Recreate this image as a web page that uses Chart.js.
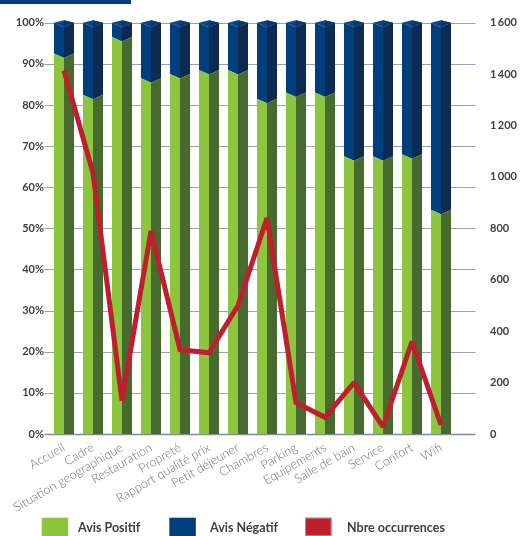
<!DOCTYPE html>
<html>
<head>
<meta charset="utf-8">
<script src="https://cdn.jsdelivr.net/npm/chart.js@4/dist/chart.umd.min.js"></script>
<style>
  html, body { margin: 0; padding: 0; background: #ffffff; }
  #wrap { position: relative; width: 523px; height: 536px; overflow: hidden; }
  #wrap canvas { position: absolute; left: 0; top: 0; }
  #band { position: absolute; left: 0; top: 0; width: 131px; height: 4px; background: #003f7f; }
</style>
</head>
<body>
<div id="wrap">
  <canvas id="chart" width="523" height="536"></canvas>
  <div id="band"></div>
</div>
<script>
// Satisfaction par thème : part d'avis positifs / négatifs et nombre d'occurrences
const categories = [
  'Accueil', 'Cadre', 'Situation geographique', 'Restauration', 'Propreté',
  'Rapport qualité prix', 'Petit déjeuner', 'Chambres', 'Parking', 'Equipements',
  'Salle de bain', 'Service', 'Confort', 'Wifi'
];
const avisPositif = [92.5, 82.5, 96.5, 86.5, 87.5, 88.5, 88.5, 81.5, 83, 83, 67.5, 67.5, 68, 54.5];
const avisNegatif = [7.5, 17.5, 3.5, 13.5, 12.5, 11.5, 11.5, 18.5, 17, 17, 32.5, 32.5, 32, 45.5];
const nbreOccurrences = [1414, 1015, 130, 790, 328, 316, 500, 840, 122, 65, 200, 28, 360, 35];
const percentTicks = [0, 10, 20, 30, 40, 50, 60, 70, 80, 90, 100];
const countTicks = [0, 200, 400, 600, 800, 1000, 1200, 1400, 1600];

const GREEN = '#8cc63f', GREEN_SIDE = '#476b2e';
const BLUE = '#013f7c', BLUE_SIDE = '#0c2a52', BLUE_TOP = '#0a4686';
const RED = '#be1e2d';

// plot area edges in canvas pixels
const AREA = { left: 49.5, right: 455.5, top: 22.7, bottom: 434 };

function formatCount(v) {
  const s = String(v);
  return s.length > 3 ? s.slice(0, s.length - 3) + '\u2009' + s.slice(-3) : s;
}

// horizontal guides, a bit wider than the plot area
const guides = {
  id: 'guides',
  beforeDatasetsDraw(chart) {
    const { ctx, chartArea } = chart;
    const y = chart.scales.y;
    ctx.save();
    percentTicks.forEach(t => {
      const py = Math.round(y.getPixelForValue(t)) + 0.5;
      ctx.strokeStyle = t === 0 ? '#7f8b98' : '#97a1ad';
      ctx.lineWidth = t === 0 ? 1.6 : 1.2;
      ctx.beginPath();
      ctx.moveTo(chartArea.left - 5, py);
      ctx.lineTo(chartArea.right + 20, py);
      ctx.stroke();
    });
    ctx.restore();
  }
};

function poly(ctx, pts, fill) {
  ctx.beginPath();
  ctx.moveTo(pts[0][0], pts[0][1]);
  for (let i = 1; i < pts.length; i++) ctx.lineTo(pts[i][0], pts[i][1]);
  ctx.closePath();
  ctx.fillStyle = fill;
  ctx.fill();
}

// bars drawn as square prisms seen edge-on: light front face, dark side face
const prisms = {
  id: 'prisms',
  beforeDatasetDraw(chart, args) {
    const ds = chart.data.datasets[args.index];
    if (ds.type !== 'bar') return;
    const ctx = chart.ctx;
    const meta = args.meta;
    const d = 4.5;
    ctx.save();
    meta.data.forEach(el => {
      const x = el.x, w = el.width;
      const L = x - w / 2, R = x + w / 2;
      const top = el.y, bottom = el.base;
      const bottomDip = ds.flatBase ? 0 : d;
      poly(ctx, [[L, top], [x, top + d], [x, bottom + bottomDip], [L, bottom]], ds.backgroundColor);
      poly(ctx, [[x, top + d], [R, top], [R, bottom], [x, bottom + bottomDip]], ds.sideColor);
      if (ds.capTop) {
        poly(ctx, [[L, top], [x, top - 2.5], [R, top], [x, top + d]], BLUE_TOP);
        poly(ctx, [[x, top - 2.5], [R, top], [x, top + d]], '#08386e');
      }
    });
    ctx.restore();
    return false;
  }
};

// sharp turns of the occurrence line get a blunt corner
const lineJoins = {
  id: 'lineJoins',
  beforeDatasetDraw(chart, args) {
    if (chart.data.datasets[args.index].type === 'line') chart.ctx.miterLimit = 1.6;
  },
  afterDatasetDraw(chart, args) {
    if (chart.data.datasets[args.index].type === 'line') chart.ctx.miterLimit = 10;
  }
};

// legend row under the axis labels
const legendRow = {
  id: 'legendRow',
  afterDraw(chart) {
    const ctx = chart.ctx;
    const boxX = [41.7, 169.3, 305];
    const textX = [78, 210, 347];
    const boxY = 517.7, boxW = 26.5, boxH = 18.5;
    ctx.save();
    chart.data.datasets.forEach((ds, i) => {
      const color = ds.type === 'line' ? ds.borderColor : ds.backgroundColor;
      ctx.fillStyle = color;
      ctx.fillRect(boxX[i], boxY, boxW, boxH);
      if (ds.type === 'line') {
        ctx.strokeStyle = '#e07a83';
        ctx.lineWidth = 1;
        ctx.strokeRect(boxX[i] + 0.5, boxY + 0.5, boxW - 1, boxH - 1);
      }
      ctx.fillStyle = '#3a3f46';
      ctx.font = 'bold 12.5px Lato, "Open Sans", sans-serif';
      ctx.textBaseline = 'middle';
      ctx.textAlign = 'left';
      ctx.fillText(ds.label, textX[i], 527.5);
    });
    ctx.restore();
  }
};

// pin the plot area to fixed edges after Chart.js has laid out its boxes
const pinArea = {
  id: 'pinArea',
  afterLayout(chart) {
    const ca = chart.chartArea;
    ca.left = AREA.left; ca.right = AREA.right;
    ca.top = AREA.top; ca.bottom = AREA.bottom;
    ca.width = ca.right - ca.left; ca.height = ca.bottom - ca.top;
    const sx = chart.scales.x, sy = chart.scales.y, s2 = chart.scales.y2;
    sx.left = AREA.left; sx.right = AREA.right; sx.width = AREA.right - AREA.left;
    sx.top = AREA.bottom; sx.bottom = 536; sx.height = 536 - AREA.bottom;
    [sy, s2].forEach(s => { s.top = AREA.top; s.bottom = AREA.bottom; s.height = AREA.bottom - AREA.top; });
    sy.left = 0; sy.right = AREA.left; sy.width = AREA.left;
    s2.left = AREA.right; s2.right = 523; s2.width = 523 - AREA.right;
    [sx, sy, s2].forEach(s => { s.configure(); s._labelItems = null; s._gridLineItems = null; });
  }
};

new Chart(document.getElementById('chart'), {
  data: {
    labels: categories,
    datasets: [
      {
        type: 'bar', label: 'Avis Positif', data: avisPositif,
        backgroundColor: GREEN, sideColor: GREEN_SIDE, flatBase: true,
        yAxisID: 'y', stack: 'avis', order: 1,
        barPercentage: 0.69, categoryPercentage: 1
      },
      {
        type: 'bar', label: 'Avis Négatif', data: avisNegatif,
        backgroundColor: BLUE, sideColor: BLUE_SIDE, capTop: true,
        yAxisID: 'y', stack: 'avis', order: 1,
        barPercentage: 0.69, categoryPercentage: 1
      },
      {
        type: 'line', label: 'Nbre occurrences', data: nbreOccurrences,
        borderColor: RED, backgroundColor: RED, borderWidth: 5,
        borderJoinStyle: 'miter', borderCapStyle: 'butt',
        pointRadius: 0, tension: 0, fill: false,
        yAxisID: 'y2', order: 0
      }
    ]
  },
  options: {
    responsive: false,
    animation: false,
    layout: { padding: { top: 22.7, bottom: 0, left: 0, right: 0 } },
    plugins: { legend: { display: false }, tooltip: { enabled: false } },
    scales: {
      x: {
        stacked: true,
        grid: { display: false, drawTicks: false },
        border: { display: false },
        afterFit(s) { s.height = 102; },
        ticks: {
          autoSkip: false, minRotation: 30, maxRotation: 30, padding: 6,
          color: '#6f6f6f',
          font: { family: 'Lato, "Open Sans", sans-serif', size: 12.5, weight: '300' }
        }
      },
      y: {
        stacked: true, min: 0, max: 100,
        grid: { display: false, drawTicks: false },
        border: { display: false },
        afterFit(s) { s.width = 49.5; },
        afterBuildTicks(s) { s.ticks = percentTicks.map(v => ({ value: v })); },
        ticks: {
          padding: 5.5, color: '#3a3f46',
          font: { family: 'Lato, "Open Sans", sans-serif', size: 11, weight: 'bold' },
          callback: v => v + '%'
        }
      },
      y2: {
        position: 'right', min: 0, max: 1600,
        grid: { display: false, drawTicks: false },
        border: { display: false },
        afterFit(s) { s.width = 67.5; },
        afterBuildTicks(s) { s.ticks = countTicks.map(v => ({ value: v })); },
        ticks: {
          padding: 34.5, color: '#3a3f46',
          font: { family: 'Lato, "Open Sans", sans-serif', size: 11, weight: 'bold' },
          callback: v => formatCount(v)
        }
      }
    }
  },
  plugins: [pinArea, guides, prisms, lineJoins, legendRow]
});
</script>
</body>
</html>
